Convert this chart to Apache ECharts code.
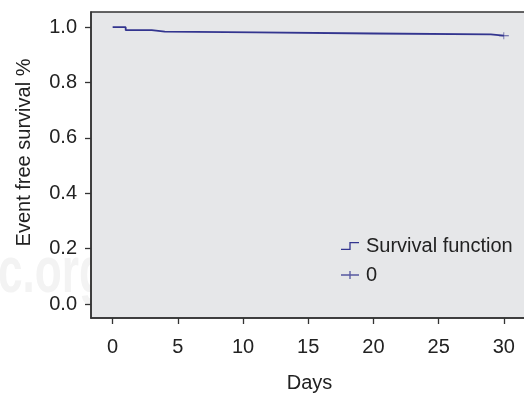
<!DOCTYPE html>
<html>
<head>
<meta charset="utf-8">
<script src="https://cdn.jsdelivr.net/npm/echarts@6/dist/echarts.min.js"></script>
<style>
html,body{margin:0;padding:0;background:#fff;}
#c{width:524px;height:396px;}
</style>
</head>
<body>
<div id="c"></div>
<script>
// Data
const days = [0, 1, 3, 4, 11, 20, 29, 30];
const survival = [1.0, 0.989, 0.984, 0.981, 0.977, 0.974, 0.969, 0.969];
const censorDays = [30];
const censorValues = [0.969];
const xTicks = [0, 5, 10, 15, 20, 25, 30];
const yTicks = [0.0, 0.2, 0.4, 0.6, 0.8, 1.0];
const seriesNames = ['Survival function', '0'];

const FONT = '"Liberation Sans", Arial, Helvetica, sans-serif';
const BLUE = '#33358f';
const FS = 20;

const chart = echarts.init(document.getElementById('c'), null, {renderer: 'canvas'});
chart.setOption({
  animation: false,
  backgroundColor: '#ffffff',
  textStyle: {fontFamily: FONT},
  graphic: [
    {type: 'text', x: -2, y: 274, scaleX: 0.68, z: -10,
     style: {text: 'c.org', font: 'bold 65px ' + FONT, fill: '#f3f3f3', verticalAlign: 'middle'}},
    {type: 'text', x: 24.5, y: 152.5, rotation: Math.PI / 2, z: 10,
     style: {text: 'Event free survival %', font: FS + 'px ' + FONT, fill: '#222', align: 'center', verticalAlign: 'middle'}},
    {type: 'text', x: 309.5, y: 383, z: 10,
     style: {text: 'Days', font: FS + 'px ' + FONT, fill: '#222', align: 'center', verticalAlign: 'middle'}}
  ],
  grid: {
    left: 91, top: 12, width: 450, height: 306,
    outerBoundsMode: 'none', containLabel: false,
    show: true, backgroundColor: '#e6e7e9', borderColor: '#333', borderWidth: 1.5, z: 0
  },
  legend: {
    left: 336, top: 231, orient: 'vertical', itemWidth: 18, itemHeight: 8, itemGap: 9,
    textStyle: {fontFamily: FONT, fontSize: FS, lineHeight: 20, color: '#222', padding: [0, 0, 0, 2]},
    itemStyle: {borderWidth: 0},
    data: [
      {name: seriesNames[0], icon: 'path://M0,6.7L8.35,6.7L8.35,0L18,0L18,1.3L9.65,1.3L9.65,8L0,8Z'},
      {name: seriesNames[1], icon: 'path://M0,3.35H8.35V0H9.65V3.35H18V4.65H9.65V8H8.35V4.65H0Z'}
    ]
  },
  xAxis: {
    type: 'value', min: -1.66, max: 32.85,
    splitLine: {show: false},
    axisLine: {show: true, onZero: false, lineStyle: {color: '#333', width: 1.5}},
    axisTick: {show: true, length: 6, lineStyle: {color: '#333', width: 1.3}, customValues: xTicks},
    axisLabel: {fontFamily: FONT, fontSize: FS, color: '#222', margin: 19, customValues: xTicks, formatter: v => String(v)}
  },
  yAxis: {
    type: 'value', min: -0.0505, max: 1.0547,
    splitLine: {show: false},
    axisLine: {show: true, onZero: false, lineStyle: {color: '#333', width: 1.5}},
    axisTick: {show: true, length: 6, lineStyle: {color: '#333', width: 1.3}, customValues: yTicks},
    axisLabel: {fontFamily: FONT, fontSize: FS, color: '#222', margin: 14, customValues: yTicks, formatter: v => v.toFixed(1)}
  },
  series: [
    {
      name: seriesNames[0], type: 'line', step: 'end', showSymbol: false, symbol: 'none',
      color: BLUE, lineStyle: {color: BLUE, width: 1.8},
      itemStyle: {color: BLUE},
      data: days.map((d, i) => [d, survival[i]]), z: 3
    },
    {
      name: seriesNames[1], type: 'scatter',
      symbol: 'path://M0,3.35H8.35V0H9.65V3.35H18V4.65H9.65V8H8.35V4.65H0Z',
      symbolSize: [10, 7], color: BLUE, itemStyle: {color: BLUE},
      data: censorDays.map((d, i) => [d, censorValues[i]]), z: 4
    }
  ]
});
</script>
</body>
</html>
